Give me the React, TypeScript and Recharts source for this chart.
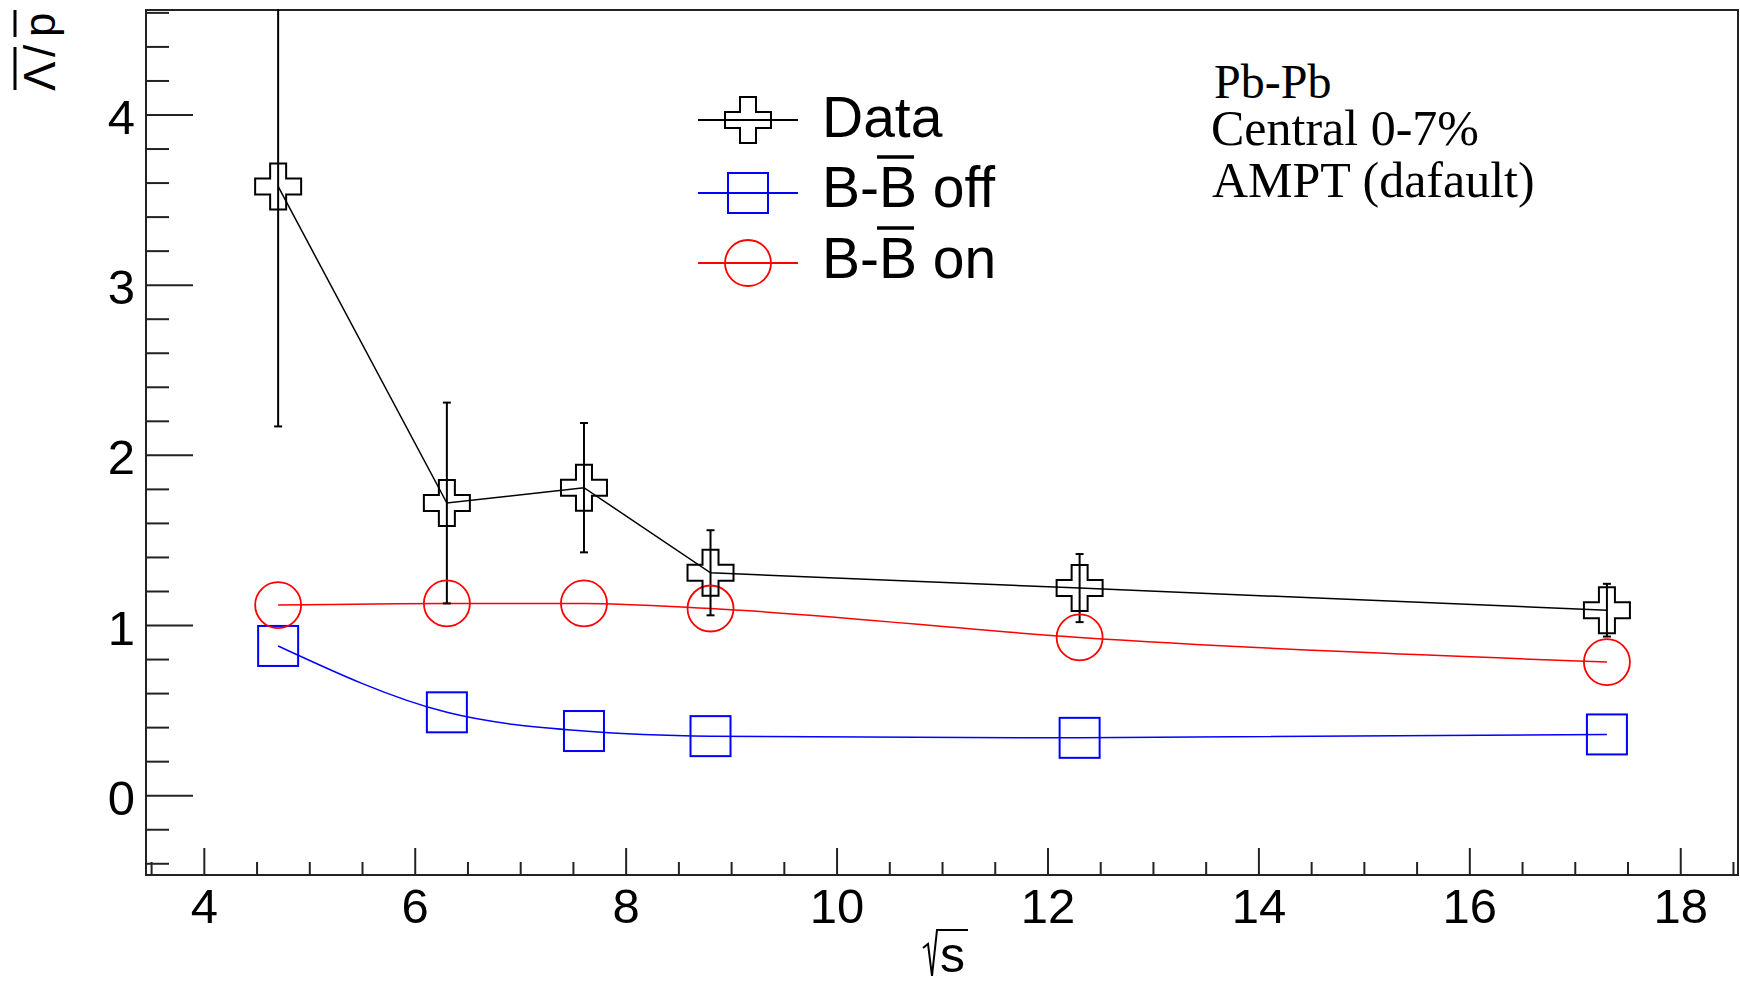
import { ComposedChart, Line, XAxis, YAxis, ErrorBar, Legend, ReferenceArea } from 'recharts'

// sqrt(s) in GeV
const energies = [4.7, 6.3, 7.6, 8.8, 12.3, 17.3]
const dataRatio = [3.58, 1.72, 1.81, 1.31, 1.22, 1.09]
const dataErr = [1.41, 0.59, 0.38, 0.25, 0.2, 0.155]
const bbOff = [0.88, 0.49, 0.38, 0.35, 0.34, 0.36]
const bbOn = [1.12, 1.13, 1.13, 1.1, 0.93, 0.785]

const xTicks = [3.5, 4, 4.5, 5, 5.5, 6, 6.5, 7, 7.5, 8, 8.5, 9, 9.5, 10, 10.5, 11, 11.5, 12, 12.5, 13, 13.5, 14, 14.5, 15, 15.5, 16, 16.5, 17, 17.5, 18, 18.5]
const yTicks = [-0.4, -0.2, 0, 0.2, 0.4, 0.6, 0.8, 1, 1.2, 1.4, 1.6, 1.8, 2, 2.2, 2.4, 2.6, 2.8, 3, 3.2, 3.4, 3.6, 3.8, 4, 4.2, 4.4, 4.6]
const xDomain = [3.447, 18.543]
const yDomain = [-0.466, 4.617]

const legendLabels = ['Data', 'B-B off', 'B-B on']
const infoLines = ['Pb-Pb', 'Central 0-7%', 'AMPT (dafault)']

const chartData = energies.map((e, i) => ({
  x: e,
  data: dataRatio[i],
  err: dataErr[i],
  off: bbOff[i],
  on: bbOn[i],
}))

const SANS = '"Liberation Sans", Arial, Helvetica, sans-serif'
const SERIF = '"Liberation Serif", "Times New Roman", serif'
const AXIS = '#222'

const crossPath = (cx: number, cy: number) => {
  const h = 23, a = 8
  return `M${cx - a},${cy - h}H${cx + a}V${cy - a}H${cx + h}V${cy + a}H${cx + a}V${cy + h}H${cx - a}V${cy + a}H${cx - h}V${cy - a}H${cx - a}Z`
}

const CrossDot = (props: any) => {
  const { cx, cy, index } = props
  if (cx == null || cy == null) return <g key={`cr-${index}`} />
  return <path key={`cr-${index}`} d={crossPath(cx, cy)} fill="none" stroke="#000" strokeWidth={2} />
}

const SquareDot = (props: any) => {
  const { cx, cy, index } = props
  if (cx == null || cy == null) return <g key={`sq-${index}`} />
  return <rect key={`sq-${index}`} x={cx - 20} y={cy - 20} width={40} height={40} fill="none" stroke="#0000ff" strokeWidth={2} />
}

const CircleDot = (props: any) => {
  const { cx, cy, index } = props
  if (cx == null || cy == null) return <g key={`ci-${index}`} />
  return <circle key={`ci-${index}`} cx={cx} cy={cy} r={23} fill="none" stroke="#ff0000" strokeWidth={1.8} />
}

const XTick = ({ x, y, payload }: any) => {
  const v = payload.value
  const major = v % 2 === 0
  return (
    <g>
      <line x1={x} x2={x} y1={y} y2={y - (major ? 27 : 13)} stroke={AXIS} strokeWidth={2} />
      {major && (
        <text x={x} y={y + 48} textAnchor="middle" fontSize={49} fontFamily={SANS} fill="#000">
          {v}
        </text>
      )}
    </g>
  )
}

const YTick = ({ x, y, payload }: any) => {
  const v = payload.value
  const major = Number.isInteger(v)
  return (
    <g>
      <line x1={x} x2={x + (major ? 47 : 23)} y1={y} y2={y} stroke={AXIS} strokeWidth={2} />
      {major && (
        <text x={x - 11} y={y + 19} textAnchor="end" fontSize={49} fontFamily={SANS} fill="#000">
          {v}
        </text>
      )}
    </g>
  )
}

const XTitle = () => (
  <g>
    <path d="M923 948 L928 944 L932 976 L937 930 L968 930" fill="none" stroke="#000" strokeWidth={2} />
    <text x={940} y={972} fontSize={50} fontFamily={SANS} fill="#000">s</text>
  </g>
)

const YTitle = () => (
  <g transform="translate(55,0) rotate(-90)">
    <text x={-91} y={0} fontSize={44} fontFamily={SANS} fill="#000">Λ</text>
    <text x={-57} y={0} fontSize={44} fontFamily={SANS} fill="#000">/</text>
    <text x={-37} y={0} fontSize={44} fontFamily={SANS} fill="#000">p</text>
    <line x1={-90} x2={-47} y1={-40} y2={-40} stroke="#000" strokeWidth={3} />
    <line x1={-37} x2={-10} y1={-40} y2={-40} stroke="#000" strokeWidth={3} />
  </g>
)

const legendRows = [
  { color: '#000', cy: 120, base: 137, kind: 'cross' },
  { color: '#0000ff', cy: 193, base: 207, kind: 'square' },
  { color: '#ff0000', cy: 263, base: 278, kind: 'circle' },
]

const LegendBox = () => {
  const fs = 57
  const tx = 822
  return (
    <svg width={1740} height={320} style={{ display: 'block', overflow: 'visible' }}>
      {/* hides the part of the first error bar that pokes above the frame */}
      <rect x={0} y={0} width={1740} height={9} fill="#fff" />
      {legendRows.map((r, i) => (
        <g key={i}>
          <line x1={698} x2={798} y1={r.cy} y2={r.cy} stroke={r.color} strokeWidth={1.8} />
          {r.kind === 'cross' && <path d={crossPath(748, r.cy)} fill="#fff" stroke="#000" strokeWidth={2} />}
          {r.kind === 'cross' && <line x1={725} x2={771} y1={r.cy} y2={r.cy} stroke="#000" strokeWidth={1.8} />}
          {r.kind === 'square' && <rect x={728} y={r.cy - 20} width={40} height={40} fill="none" stroke={r.color} strokeWidth={2} />}
          {r.kind === 'circle' && <circle cx={748} cy={r.cy} r={23} fill="none" stroke={r.color} strokeWidth={1.8} />}
          <text x={tx} y={r.base} fontSize={fs} fontFamily={SANS} fill="#000">
            {legendLabels[i]}
          </text>
          {i > 0 && (
            <line x1={tx + fs * 1.0 - 2} x2={tx + fs * 1.667 - 3} y1={r.base - 50} y2={r.base - 50} stroke="#000" strokeWidth={3.3} />
          )}
        </g>
      ))}
      <text x={1214} y={98} fontSize={48} fontFamily={SERIF} fill="#000">{infoLines[0]}</text>
      <text x={1211} y={145} fontSize={50} fontFamily={SERIF} fill="#000">{infoLines[1]}</text>
      <text x={1212} y={197} fontSize={50} fontFamily={SERIF} fill="#000">{infoLines[2]}</text>
    </svg>
  )
}

export default function App() {
  return (
    <div style={{ position: 'absolute', left: 0, top: 0, width: 1740, height: 983, background: '#fff' }}>
      <ComposedChart width={1740} height={983} data={chartData} margin={{ top: 10, right: 2, left: 0, bottom: 0 }}>
        <XAxis
          type="number"
          dataKey="x"
          domain={xDomain}
          allowDataOverflow
          ticks={xTicks}
          interval={0}
          height={108}
          tickSize={0}
          tickMargin={0}
          axisLine={false}
          tickLine={false}
          tick={<XTick />}
          label={{ content: <XTitle /> }}
        />
        <YAxis
          type="number"
          domain={yDomain}
          allowDataOverflow
          ticks={yTicks}
          interval={0}
          width={146}
          tickSize={0}
          tickMargin={0}
          axisLine={false}
          tickLine={false}
          tick={<YTick />}
          label={{ content: <YTitle /> }}
        />
        <ReferenceArea
          x1={xDomain[0]}
          x2={xDomain[1]}
          y1={yDomain[0]}
          y2={yDomain[1]}
          fill="none"
          stroke={AXIS}
          strokeWidth={2}
          ifOverflow="visible"
        />
        <Line
          type="monotone"
          dataKey="off"
          stroke="#0000ff"
          strokeWidth={1.5}
          dot={SquareDot}
          activeDot={false}
          isAnimationActive={false}
        />
        <Line
          type="monotone"
          dataKey="on"
          stroke="#ff0000"
          strokeWidth={1.5}
          dot={CircleDot}
          activeDot={false}
          isAnimationActive={false}
        />
        <Line
          type="linear"
          dataKey="data"
          stroke="#000"
          strokeWidth={1.5}
          dot={CrossDot}
          activeDot={false}
          isAnimationActive={false}
        >
          <ErrorBar dataKey="err" direction="y" width={4} stroke="#000" strokeWidth={2} isAnimationActive={false} />
        </Line>
        <Legend
          layout="horizontal"
          align="center"
          verticalAlign="middle"
          content={<LegendBox />}
          wrapperStyle={{ left: 0, top: 0, width: 1740, height: 0 }}
        />
      </ComposedChart>
    </div>
  )
}
